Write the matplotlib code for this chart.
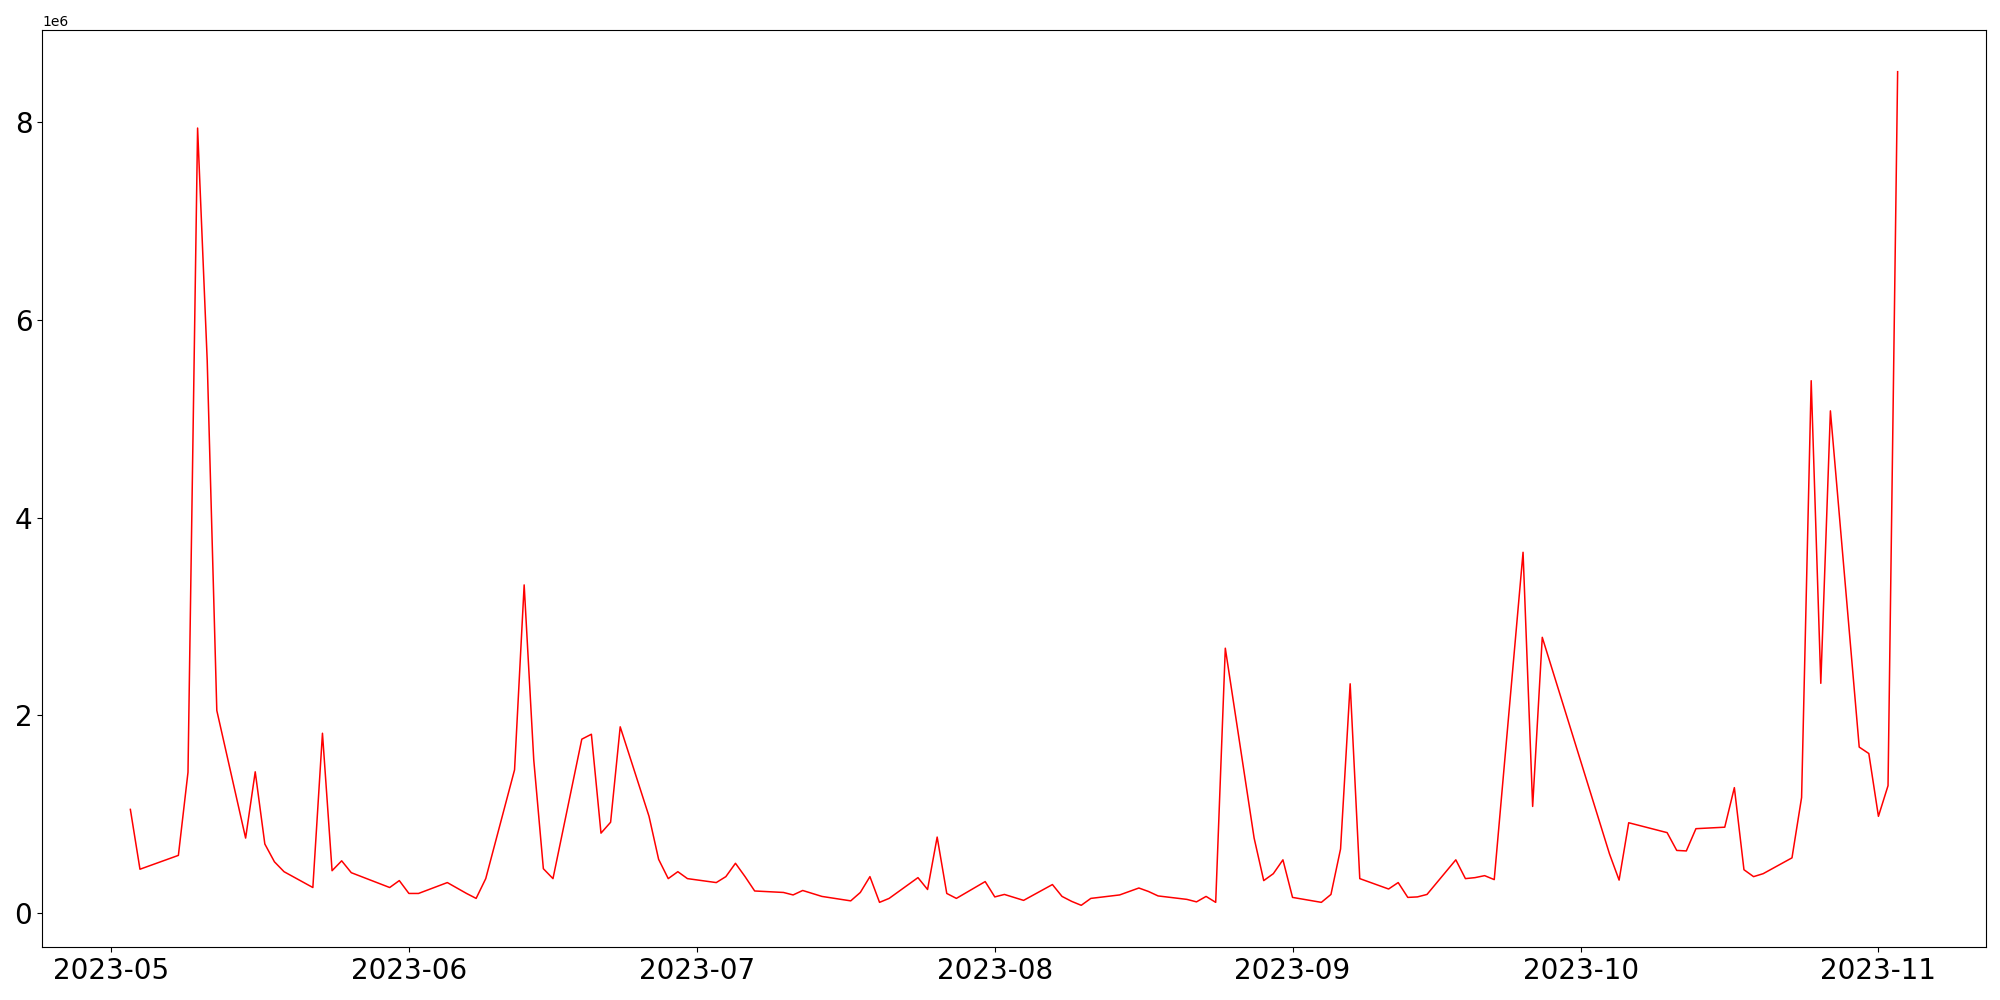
import matplotlib
matplotlib.use("Agg")
import matplotlib.pyplot as plt
import numpy as np
import pandas as pd

# trading days (May-Nov 2023) and values in millions
dates = [
    "2023-05-03", "2023-05-04", "2023-05-08", "2023-05-09", "2023-05-10", "2023-05-11", "2023-05-12",
    "2023-05-15", "2023-05-16", "2023-05-17", "2023-05-18", "2023-05-19",
    "2023-05-22", "2023-05-23", "2023-05-24", "2023-05-25", "2023-05-26",
    "2023-05-30", "2023-05-31", "2023-06-01", "2023-06-02",
    "2023-06-05", "2023-06-07", "2023-06-08", "2023-06-09",
    "2023-06-12", "2023-06-13", "2023-06-14", "2023-06-15", "2023-06-16",
    "2023-06-19", "2023-06-20", "2023-06-21", "2023-06-22", "2023-06-23",
    "2023-06-26", "2023-06-27", "2023-06-28", "2023-06-29", "2023-06-30",
    "2023-07-03", "2023-07-04", "2023-07-05", "2023-07-06", "2023-07-07",
    "2023-07-10", "2023-07-11", "2023-07-12", "2023-07-13", "2023-07-14",
    "2023-07-17", "2023-07-18", "2023-07-19", "2023-07-20", "2023-07-21",
    "2023-07-24", "2023-07-25", "2023-07-26", "2023-07-27", "2023-07-28",
    "2023-07-31", "2023-08-01", "2023-08-02", "2023-08-03", "2023-08-04",
    "2023-08-07", "2023-08-08", "2023-08-09", "2023-08-10", "2023-08-11",
    "2023-08-14", "2023-08-16", "2023-08-17", "2023-08-18",
    "2023-08-21", "2023-08-22", "2023-08-23", "2023-08-24", "2023-08-25",
    "2023-08-28", "2023-08-29", "2023-08-30", "2023-08-31", "2023-09-01",
    "2023-09-04", "2023-09-05", "2023-09-06", "2023-09-07", "2023-09-08",
    "2023-09-11", "2023-09-12", "2023-09-13", "2023-09-14", "2023-09-15",
    "2023-09-18", "2023-09-19", "2023-09-20", "2023-09-21", "2023-09-22",
    "2023-09-25", "2023-09-26", "2023-09-27",
    "2023-10-04", "2023-10-05", "2023-10-06",
    "2023-10-10", "2023-10-11", "2023-10-12", "2023-10-13",
    "2023-10-16", "2023-10-17", "2023-10-18", "2023-10-19", "2023-10-20",
    "2023-10-23", "2023-10-24", "2023-10-25", "2023-10-26", "2023-10-27",
    "2023-10-30", "2023-10-31", "2023-11-01", "2023-11-02", "2023-11-03",
]
volume_m = [
    1.05, 0.445, 0.585, 1.425, 7.94, 5.59, 2.05,
    0.76, 1.43, 0.70, 0.52, 0.42,
    0.26, 1.82, 0.43, 0.53, 0.41,
    0.26, 0.33, 0.20, 0.20,
    0.31, 0.20, 0.15, 0.35,
    1.45, 3.32, 1.55, 0.45, 0.35,
    1.76, 1.81, 0.81, 0.92, 1.885,
    0.98, 0.545, 0.35, 0.42, 0.35,
    0.31, 0.37, 0.505, 0.37, 0.225,
    0.21, 0.185, 0.23, 0.20, 0.17,
    0.125, 0.21, 0.37, 0.11, 0.15,
    0.36, 0.24, 0.77, 0.20, 0.15,
    0.32, 0.165, 0.19, 0.16, 0.13,
    0.29, 0.17, 0.12, 0.08, 0.15,
    0.185, 0.255, 0.22, 0.175,
    0.14, 0.115, 0.17, 0.11, 2.68,
    0.76, 0.33, 0.40, 0.54, 0.16,
    0.11, 0.19, 0.65, 2.32, 0.35,
    0.245, 0.31, 0.16, 0.165, 0.19,
    0.54, 0.35, 0.36, 0.38, 0.34,
    3.65, 1.08, 2.79,
    0.60, 0.335, 0.915,
    0.815, 0.635, 0.63, 0.855,
    0.87, 1.27, 0.44, 0.37, 0.40,
    0.56, 1.17, 5.385, 2.325, 5.08,
    1.68, 1.615, 0.98, 1.29, 8.51,
]

x = pd.to_datetime(dates)
y = np.array(volume_m) * 1e6

plt.figure(figsize=(20, 10), dpi=100)
plt.plot(x, y, color='red', linewidth=1.1)
plt.xticks(fontsize=20)
plt.yticks(fontsize=20)
plt.subplots_adjust(left=0.021, right=0.993, bottom=0.053, top=0.97)
plt.savefig('out.png', dpi=100)
